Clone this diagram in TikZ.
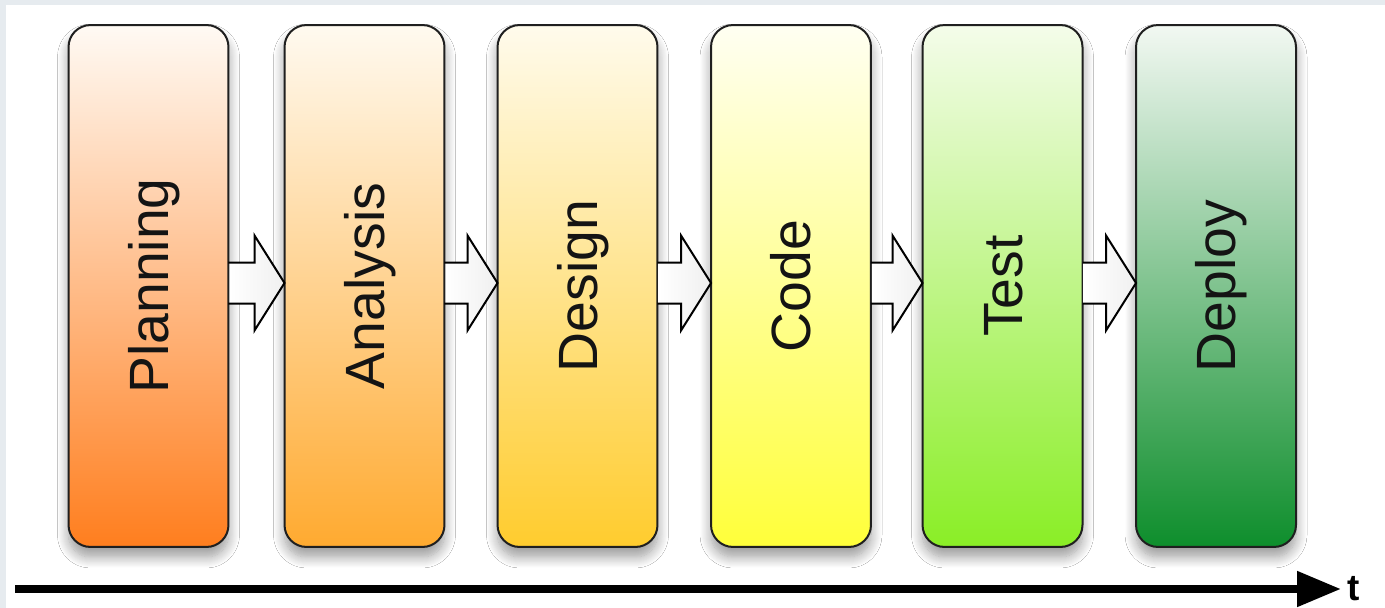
\documentclass[tikz,border=0pt]{standalone}
\usepackage{fontspec}
\setmainfont{Liberation Sans}
\usetikzlibrary{arrows.meta,calc,shadows.blur}
\definecolor{pageGray}{HTML}{E6EBEF}
\definecolor{c1top}{HTML}{FFFAF4}\definecolor{c1bot}{HTML}{FF7E1E}
\definecolor{c2top}{HTML}{FFFAF0}\definecolor{c2bot}{HTML}{FFAA30}
\definecolor{c3top}{HTML}{FFFBEC}\definecolor{c3bot}{HTML}{FFCC2E}
\definecolor{c4top}{HTML}{FFFFF2}\definecolor{c4bot}{HTML}{FFFF3A}
\definecolor{c5top}{HTML}{F4FCEA}\definecolor{c5bot}{HTML}{8AEE26}
\definecolor{c6top}{HTML}{F2F8F2}\definecolor{c6mid}{HTML}{ACDAB4}\definecolor{c6bot}{HTML}{0E8E2C}
\begin{document}
\begin{tikzpicture}[x=0.02cm,y=-0.02cm,
  phase/.style={draw=black!88, line width=0.04cm, rounded corners=0.44cm,
    minimum width=3.2cm, minimum height=10.44cm, inner sep=0pt, outer sep=0pt,
    blur shadow={shadow xshift=0cm, shadow yshift=-0.2cm, shadow blur radius=0.22cm, shadow blur steps=12, shadow opacity=40}},
  lbl/.style={rotate=90, inner sep=0pt, text height=22.5pt, text depth=0pt,
    font=\fontsize{31.5pt}{36pt}\selectfont, text=black!92},
  flow/.style={draw=black, line width=0.04cm, line join=miter},
  flowfill/.style={left color=white, right color=black!6, draw=none}]
\useasboundingbox (0,0) rectangle (1385,608);
\fill[pageGray] (0,0) rectangle (1385,608);
\fill[white] (6,5) rectangle (1385,608);

\node[phase, top color=c1top, bottom color=c1bot] (b1) at (148.5,286) {};
\node[phase, top color=c2top, bottom color=c2bot] (b2) at (364.5,286) {};
\node[phase, top color=c3top, bottom color=c3bot] (b3) at (577.5,286) {};
\node[phase, top color=c4top, bottom color=c4bot] (b4) at (791,286) {};
\node[phase, top color=c5top, bottom color=c5bot] (b5) at (1002.5,286) {};
\node[phase, top color=c6top, middle color=c6mid, bottom color=c6bot] (b6) at (1216,286) {};

\node[lbl] (l1) at (b1.center) {Planning};
\node[lbl] (l2) at (b2.center) {Analysis};
\node[lbl] (l3) at (b3.center) {Design};
\node[lbl] (l4) at (b4.center) {Code};
\node[lbl] (l5) at (b5.center) {Test};
\node[lbl] (l6) at (b6.center) {Deploy};

\foreach \a/\b in {b1/b2,b2/b3,b3/b4,b4/b5,b5/b6}{
  \fill[flowfill] ($(\a.east)+(1,-23.5)$) -- ($(\b.west)+(-30,-23.5)$) -- ($(\b.west)+(-30,-50.5)$)
    -- ($(\b.west)+(0,-3)$) -- ($(\b.west)+(-30,44.5)$) -- ($(\b.west)+(-30,17.5)$)
    -- ($(\a.east)+(1,17.5)$) -- cycle;
  \draw[flow] ($(\a.east)+(0,-23.5)$) -- ($(\b.west)+(-30,-23.5)$) -- ($(\b.west)+(-30,-50.5)$)
    -- ($(\b.west)+(0,-3)$) -- ($(\b.west)+(-30,44.5)$) -- ($(\b.west)+(-30,17.5)$)
    -- ($(\a.east)+(0,17.5)$);
}

\coordinate (t0) at (15,589);
\coordinate (t1) at (1341,589);
\draw[line width=0.16cm, -{Triangle[length=0.88cm,width=0.68cm]}] (t0) -- (t1);
\node[anchor=west, inner sep=0pt, font=\bfseries\fontsize{21pt}{24pt}\selectfont] (tl) at ($(t1)+(6,0)$) {t};
\end{tikzpicture}
\end{document}
